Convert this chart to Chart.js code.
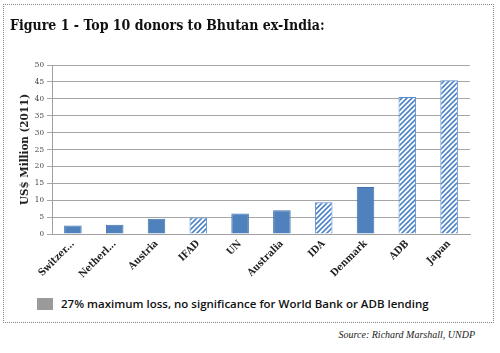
<!DOCTYPE html>
<html lang="en">

<head>
    <meta charset="UTF-8" />
    <title>Top 10 donors to Bhutan ex-India</title>
    <script src="https://cdn.jsdelivr.net/npm/chart.js"></script>
    <style>
        body {
            margin: 0;
            width: 500px;
            height: 353px;
            background: #fff;
            position: relative;
            overflow: hidden;
        }

        #box {
            position: absolute;
            left: 3px;
            top: 4px;
            width: 489px;
            height: 317px;
            border: 1px dotted #888;
        }

        #title {
            position: absolute;
            left: 10px;
            top: 17px;
            font-family: "DejaVu Serif Condensed", "DejaVu Serif", serif;
            font-weight: bold;
            font-size: 14px;
            color: #111;
            white-space: nowrap;
        }

        #wrap {
            position: absolute;
            left: 0;
            top: 0;
            width: 500px;
            height: 285px;
        }

        #legend {
            position: absolute;
            left: 37px;
            top: 296px;
            font-family: "Open Sans", sans-serif;
            font-weight: 600;
            font-size: 11.5px;
            color: #111;
            white-space: nowrap;
        }

        #legend span.swatch {
            display: inline-block;
            width: 16px;
            height: 12px;
            background: #9a9a9a;
            vertical-align: -2px;
            margin-right: 8px;
        }

        #source {
            position: absolute;
            right: 25px;
            top: 329px;
            font-family: "Liberation Serif", serif;
            font-style: italic;
            font-size: 10px;
            color: #222;
        }
    </style>
</head>

<body>
    <div id="box"></div>
    <div id="wrap"><canvas id="donorChart" width="500" height="285"></canvas></div>
    <div id="title">Figure 1 - Top 10 donors to Bhutan ex-India:</div>
    <div id="legend"><span class="swatch"></span>27% maximum loss, no significance for World Bank or ADB lending</div>
    <div id="source">Source: Richard Marshall, UNDP</div>

    <script>
        const donors = ["Switzer...", "Netherl...", "Austria", "IFAD", "UN", "Australia", "IDA", "Denmark", "ADB", "Japan"];
        const aid = [2.5, 2.7, 4.5, 4.9, 6.1, 7.0, 9.4, 13.9, 40.5, 45.5];
        const hatchedDonors = ["IFAD", "IDA", "ADB", "Japan"];
        const yTicks = [0, 5, 10, 15, 20, 25, 30, 35, 40, 45, 50];

        const blue = "#4f81bd";
        const blueEdge = "#3f70ad";

        // diagonal stripes for the hatched bars
        function makeHatch() {
            const p = document.createElement("canvas");
            p.width = 5;
            p.height = 5;
            const c = p.getContext("2d");
            c.fillStyle = "#fff";
            c.fillRect(0, 0, 5, 5);
            c.strokeStyle = "#4f84c8";
            c.lineWidth = 1.6;
            c.beginPath();
            c.moveTo(-1, 6); c.lineTo(6, -1);
            c.moveTo(-1, 1); c.lineTo(1, -1);
            c.moveTo(4, 6); c.lineTo(6, 4);
            c.stroke();
            return c.createPattern(p, "repeat");
        }

        const ctx = document.getElementById("donorChart").getContext("2d");
        const hatch = makeHatch();

        const fills = donors.map(d => hatchedDonors.includes(d) ? hatch : blue);
        const edges = donors.map(d => hatchedDonors.includes(d) ? "#5a8fd0" : blueEdge);

        const serif = "'DejaVu Serif Condensed', 'DejaVu Serif', serif";

        const chart = new Chart(ctx, {
            type: "bar",
            data: {
                labels: donors,
                datasets: [{
                    data: aid,
                    backgroundColor: fills,
                    borderColor: edges,
                    borderWidth: 1,
                    categoryPercentage: 1,
                    barPercentage: 0.42
                }]
            },
            options: {
                responsive: false,
                animation: false,
                layout: { padding: { left: 18, right: 30, top: 65, bottom: 0 } },
                plugins: {
                    legend: { display: false },
                    tooltip: { enabled: false }
                },
                scales: {
                    x: {
                        grid: { display: false, drawTicks: false },
                        border: { color: "#a0a0a0", width: 1 },
                        ticks: {
                            minRotation: 45,
                            maxRotation: 45,
                            padding: 4,
                            color: "#222",
                            font: { family: serif, size: 10, weight: "bold" }
                        },
                        afterFit: s => { s.height = 51; }
                    },
                    y: {
                        min: 0,
                        max: 50,
                        afterBuildTicks: s => { s.ticks = yTicks.map(v => ({ value: v })); },
                        grid: { color: "#a6a6a6", tickLength: 5, lineWidth: 1 },
                        border: { color: "#a0a0a0", width: 1 },
                        ticks: {
                            padding: 3,
                            color: "#444",
                            font: { family: serif, size: 8 }
                        },
                        title: {
                            display: true,
                            text: "US$ Million (2011)",
                            color: "#222",
                            padding: 0,
                            font: { family: serif, size: 11.5, weight: "bold" }
                        },
                        afterFit: s => { s.width = 34; }
                    }
                }
            }
        });
    </script>

</body>

</html>
